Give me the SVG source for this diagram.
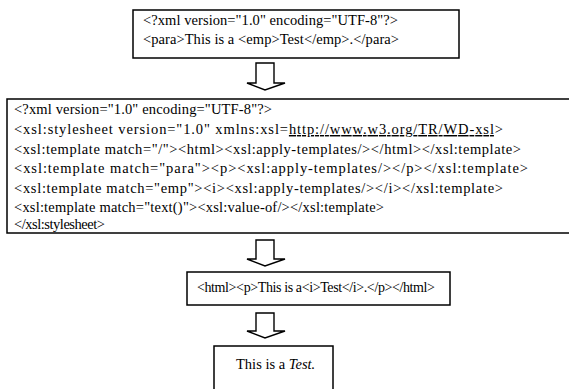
<svg xmlns="http://www.w3.org/2000/svg" width="569" height="389" viewBox="0 0 569 389">
  <style>
    .box { fill: #fff; stroke: #000; stroke-width: 1.5; }
    .arrow { fill: #fff; stroke: #000; stroke-width: 1.4; stroke-linejoin: miter; }
    .t { font-family: "Liberation Serif", "Times New Roman", serif; font-size: 14.5px; fill: #000; }
    .s { font-size: 14px; }
    .u { text-decoration: underline; }
  </style>
  <rect width="569" height="389" fill="#fff"/>

  <!-- source XML document -->
  <g id="source">
    <rect class="box" x="133" y="10" width="326" height="48"/>
    <text class="t" x="143" y="25" textLength="255" lengthAdjust="spacing">&lt;?xml version="1.0" encoding="UTF-8"?&gt;</text>
    <text class="t" x="143" y="44" textLength="256" lengthAdjust="spacing">&lt;para&gt;This is a &lt;emp&gt;Test&lt;/emp&gt;.&lt;/para&gt;</text>
  </g>

  <!-- XSL stylesheet (box runs past the right edge) -->
  <g id="stylesheet">
    <rect class="box" x="7" y="99" width="566" height="134"/>
    <text class="t" x="14" y="114" textLength="258" lengthAdjust="spacing">&lt;?xml version="1.0" encoding="UTF-8"?&gt;</text>
    <text class="t" x="14" y="134" textLength="489" lengthAdjust="spacing">&lt;xsl:stylesheet version="1.0" xmlns:xsl=<tspan class="u">http://www.w3.org/TR/WD-xsl</tspan>&gt;</text>
    <text class="t" x="14" y="154" textLength="507" lengthAdjust="spacing">&lt;xsl:template match="/"&gt;&lt;html&gt;&lt;xsl:apply-templates/&gt;&lt;/html&gt;&lt;/xsl:template&gt;</text>
    <text class="t" x="14" y="173" textLength="514" lengthAdjust="spacing">&lt;xsl:template match="para"&gt;&lt;p&gt;&lt;xsl:apply-templates/&gt;&lt;/p&gt;&lt;/xsl:template&gt;</text>
    <text class="t" x="14" y="193" textLength="489" lengthAdjust="spacing">&lt;xsl:template match="emp"&gt;&lt;i&gt;&lt;xsl:apply-templates/&gt;&lt;/i&gt;&lt;/xsl:template&gt;</text>
    <text class="t" x="14" y="212" textLength="370" lengthAdjust="spacing">&lt;xsl:template match="text()"&gt;&lt;xsl:value-of/&gt;&lt;/xsl:template&gt;</text>
    <text class="t" x="14" y="229" textLength="91" lengthAdjust="spacing">&lt;/xsl:stylesheet&gt;</text>
  </g>

  <!-- generated HTML -->
  <g id="html">
    <rect class="box" x="187" y="272" width="263" height="33"/>
    <text class="t s" x="197" y="292" textLength="238" lengthAdjust="spacing">&lt;html&gt;&lt;p&gt;This is a&lt;i&gt;Test&lt;/i&gt;.&lt;/p&gt;&lt;/html&gt;</text>
  </g>

  <!-- rendered result -->
  <g id="result">
    <rect class="box" x="214" y="346" width="119" height="46"/>
    <text class="t" x="236" y="369" font-size="14">This is a <tspan font-style="italic">Test.</tspan></text>
  </g>

  <!-- block arrows between stages -->
  <g id="connectors">
    <path class="arrow" d="M256,63 H274 V83 H285 L265,90 L247,83 H256 Z"/>
    <path class="arrow" d="M256,240 H274 V259 H285 L265,266 L247,259 H256 Z"/>
    <path class="arrow" d="M256,313 H274 V331 H285 L265,338 L247,331 H256 Z"/>
  </g>
</svg>
